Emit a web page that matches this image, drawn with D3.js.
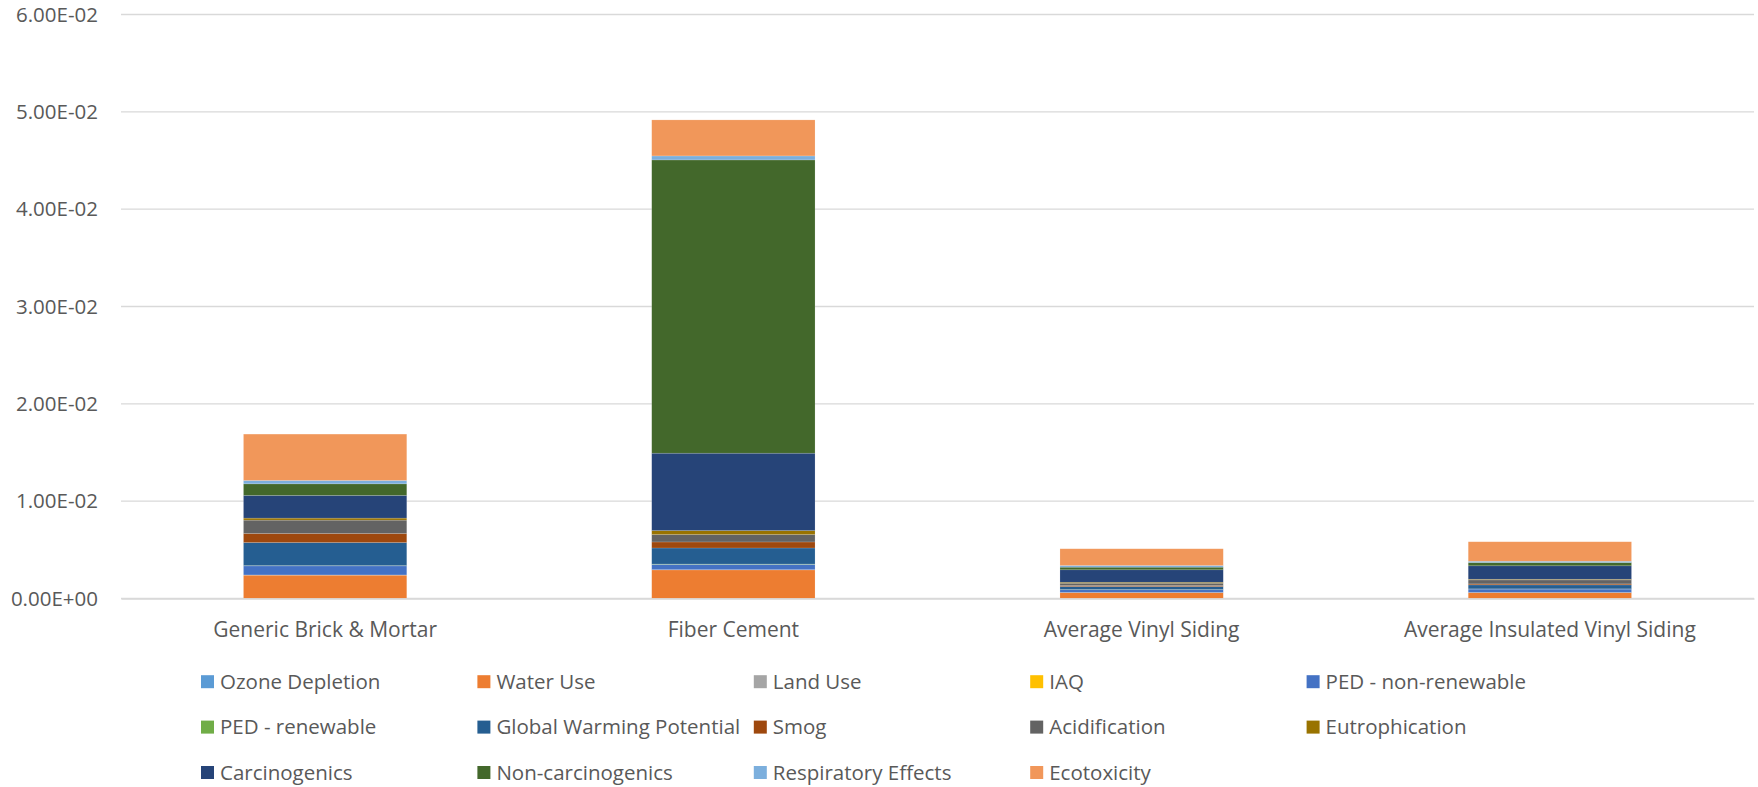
<!DOCTYPE html>
<html>
<head>
<meta charset="utf-8">
<script src="https://cdn.jsdelivr.net/npm/d3@7"></script>
<style>
  html, body { margin: 0; padding: 0; background: #fff; }
  svg text { font-family: "Open Sans", "Noto Sans", sans-serif; fill: #595959; }
</style>
</head>
<body>
<svg id="chart" width="1758" height="787"></svg>
<script>
// Siding products compared by impact category (stacked)
const products = ["Generic Brick & Mortar", "Fiber Cement", "Average Vinyl Siding", "Average Insulated Vinyl Siding"];

const impactCategories = [
  "Ozone Depletion", "Water Use", "Land Use", "IAQ", "PED - non-renewable",
  "PED - renewable", "Global Warming Potential", "Smog", "Acidification", "Eutrophication",
  "Carcinogenics", "Non-carcinogenics", "Respiratory Effects", "Ecotoxicity"
];

const categoryColors = [
  "#5B9BD5", "#ED7D31", "#A5A5A5", "#FFC000", "#4472C4",
  "#70AD47", "#255E91", "#9E480E", "#636363", "#997300",
  "#264478", "#43682B", "#7CAFDD", "#F1975A"
];

// One array per product, in the order of impactCategories
const brickMortar     = [0.00001, 0.00239, 0.00002, 0.00000, 0.00093, 0.00003, 0.00237, 0.00093, 0.00137, 0.00021, 0.00233, 0.00119, 0.00035, 0.00476];
const fiberCement     = [0.00001, 0.00293, 0.00002, 0.00000, 0.00055, 0.00003, 0.00165, 0.00062, 0.00076, 0.00041, 0.00795, 0.03013, 0.00041, 0.00370];
const vinylSiding     = [0.00001, 0.00060, 0.00001, 0.00000, 0.00028, 0.00002, 0.00031, 0.00010, 0.00024, 0.00010, 0.00128, 0.00027, 0.00017, 0.00172];
const insulatedVinyl  = [0.00001, 0.00060, 0.00001, 0.00000, 0.00035, 0.00002, 0.00041, 0.00010, 0.00041, 0.00007, 0.00138, 0.00034, 0.00013, 0.00200];

const yTicks = [0, 0.01, 0.02, 0.03, 0.04, 0.05, 0.06];
const yTickLabels = ["0.00E+00", "1.00E-02", "2.00E-02", "3.00E-02", "4.00E-02", "5.00E-02", "6.00E-02"];

const productValues = [brickMortar, fiberCement, vinylSiding, insulatedVinyl];
const table = products.map((p, i) => {
  const row = { product: p };
  impactCategories.forEach((c, j) => { row[c] = productValues[i][j]; });
  return row;
});

const svg = d3.select("#chart");
const margin = { left: 121, right: 4, top: 14.5, bottom: 188.5 };
const W = 1758, H = 787;

const x = d3.scaleBand()
  .domain(products)
  .range([margin.left, W - margin.right])
  .paddingInner(0.6)
  .paddingOuter(0.3);

const y = d3.scaleLinear()
  .domain([0, 0.06])
  .range([H - margin.bottom, margin.top]);

const color = d3.scaleOrdinal().domain(impactCategories).range(categoryColors);

// Horizontal gridlines
svg.append("g")
  .selectAll("line")
  .data(yTicks)
  .join("line")
  .attr("x1", margin.left)
  .attr("x2", W - margin.right)
  .attr("y1", d => y(d))
  .attr("y2", d => y(d))
  .attr("stroke", "#d9d9d9")
  .attr("stroke-width", 1.3);

// Y axis labels
const yAxis = d3.axisLeft(y)
  .tickValues(yTicks)
  .tickFormat((d, i) => yTickLabels[i])
  .tickSize(0)
  .tickPadding(0);

const yG = svg.append("g")
  .attr("transform", `translate(${margin.left - 23},0)`)
  .call(yAxis);
yG.select(".domain").remove();
yG.selectAll("text")
  .attr("font-size", 20.5)
  .style("font-family", "'Open Sans', sans-serif")
  .attr("fill", "#595959");

// Stacked bars
const series = d3.stack().keys(impactCategories)(table);

svg.append("g")
  .selectAll("g")
  .data(series)
  .join("g")
  .attr("fill", d => color(d.key))
  .selectAll("rect")
  .data(d => d)
  .join("rect")
  .attr("x", d => x(d.data.product))
  .attr("width", x.bandwidth())
  .attr("y", d => y(d[1]))
  .attr("height", d => Math.max(0, y(d[0]) - y(d[1])))
  .attr("stroke", "#ffffff")
  .attr("stroke-opacity", 0.25)
  .attr("stroke-width", 0.6);

// X axis line and category labels
const xAxis = d3.axisBottom(x).tickSize(0).tickPadding(0);
const xG = svg.append("g")
  .attr("transform", `translate(0,${y(0)})`)
  .call(xAxis);
xG.select(".domain")
  .attr("stroke", "#d9d9d9")
  .attr("stroke-width", 1.3);
xG.selectAll("text")
  .attr("y", 38.5)
  .attr("dy", 0)
  .attr("font-size", 21)
  .style("font-family", "'Open Sans', sans-serif")
  .attr("fill", "#595959");

// Legend: 5 columns, 3 rows
const legendCols = 5;
const colX0 = 201, colStep = 276.4;
const rowY0 = 681.7, rowStep = 45.4;
const legend = svg.append("g")
  .selectAll("g")
  .data(impactCategories)
  .join("g")
  .attr("transform", (d, i) => `translate(${colX0 + (i % legendCols) * colStep},${rowY0 + Math.floor(i / legendCols) * rowStep})`);

legend.append("rect")
  .attr("x", 0)
  .attr("y", -6.5)
  .attr("width", 13)
  .attr("height", 13)
  .attr("fill", d => color(d));

legend.append("text")
  .attr("x", 19)
  .attr("y", 7.3)
  .attr("font-size", 20.5)
  .text(d => d);
</script>
</body>
</html>
